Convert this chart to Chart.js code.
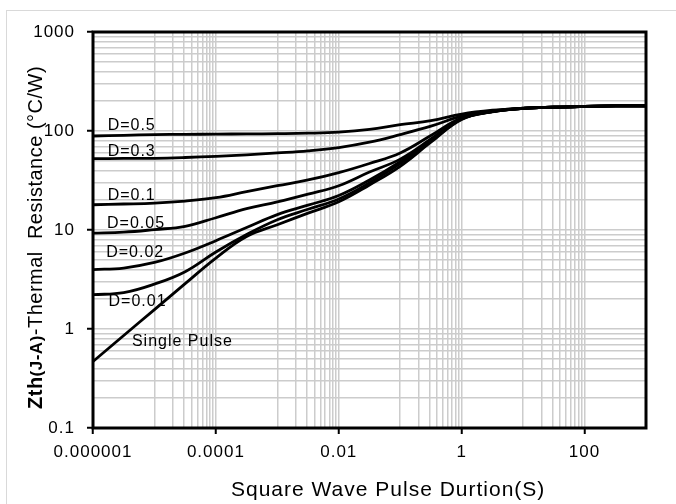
<!DOCTYPE html>
<html>
<head>
<meta charset="utf-8">
<script src="https://cdn.jsdelivr.net/npm/chart.js@4.4.1/dist/chart.umd.min.js"></script>
<style>
  html, body { margin: 0; padding: 0; background: #fff; }
  #wrap { width: 676px; height: 504px; }
</style>
</head>
<body>
<div id="wrap"><canvas id="zth" width="676" height="504"></canvas></div>
<script>
'use strict';

// ── Pulse widths (s), half-decade steps ──
const pulseWidths = [0.000001, 0.00000316, 0.00001, 0.0000316, 0.0001, 0.000316, 0.001, 0.00316,
                     0.01, 0.0316, 0.1, 0.316, 1, 3.16, 10, 31.6, 100, 316, 1000];

// ── Zth(j-a) in °C/W for each duty cycle ──
const zthD05    = [89, 90.5, 92, 92.5, 93, 93.5, 94, 95, 97.5, 104, 116, 127, 148, 162, 170, 174, 177, 179, 180];
const zthD03    = [52.6, 52.8, 53, 54, 55.5, 57.5, 60, 63, 68, 77, 92, 112, 141, 160, 170, 174, 177, 179, 180];
const zthD01    = [18, 18.3, 18.7, 19.6, 21.2, 24.4, 28, 32, 38, 47, 60, 90, 136, 158, 169, 174, 177, 179, 180];
const zthD005   = [9.3, 9.5, 10.1, 10.9, 13.3, 16.4, 19.2, 23, 28, 38.5, 52, 83, 134, 157, 169, 174, 177, 179, 180];
const zthD002   = [3.98, 4.13, 4.7, 5.86, 7.8, 10.6, 14.3, 17.8, 22.3, 32, 49, 81, 133, 157, 169, 174, 177, 179, 180];
const zthD001   = [2.22, 2.33, 2.84, 3.79, 6.0, 9.0, 12.7, 16.2, 20.6, 30, 46.8, 79, 132, 157, 169, 174, 177, 179, 180];
const zthSingle = [0.47, 0.86, 1.57, 2.87, 5.2, 8.6, 11.3, 14.8, 19.3, 28.5, 44, 77, 131, 156, 169, 174, 177, 179, 180];

const seriesNames = ['D=0.5', 'D=0.3', 'D=0.1', 'D=0.05', 'D=0.02', 'D=0.01', 'Single Pulse'];
const seriesData  = [zthD05, zthD03, zthD01, zthD005, zthD002, zthD001, zthSingle];

// curve tags: [pulse width, Zth] at the text's left baseline
const tagAnchors = [[1.73e-6, 102], [1.73e-6, 56.3], [1.73e-6, 20.2], [1.69e-6, 10.5],
                    [1.64e-6, 5.34], [1.79e-6, 1.72], [4.3e-6, 0.667]];

// ── Axis ticks ──
const xMajor       = [0.000001, 0.0001, 0.01, 1, 100];
const xMajorLabels = ['0.000001', '0.0001', '0.01', '1', '100'];
const yMajor       = [0.1, 1, 10, 100, 1000];
const yMajorLabels = ['0.1', '1', '10', '100', '1000'];

// x gridlines every 1..9 step inside each odd decade, y gridlines every 1..9 step per decade
const xGrid = [...xMajor];
[0.00001, 0.001, 0.1, 10].forEach(b => { for (let k = 1; k <= 9; k++) xGrid.push(b * k); });
const yGrid = [...yMajor];
[0.1, 1, 10, 100].forEach(b => { for (let k = 2; k <= 9; k++) yGrid.push(b * k); });
xGrid.sort((a, b) => a - b);
yGrid.sort((a, b) => a - b);

const FONT = '"Liberation Sans", Arial, sans-serif';

const zthFrame = {
    id: 'zthFrame',
    beforeDraw(chart) {
        const c = chart.ctx;
        c.save();
        c.fillStyle = '#fff';
        c.fillRect(0, 0, chart.width, chart.height);
        c.strokeStyle = '#d9d9d9';
        c.lineWidth = 1;
        c.strokeRect(6.5, 10.5, chart.width + 20, chart.height + 20);
        c.restore();
        c.letterSpacing = '1px';   // wide tick numerals
    },
    beforeDatasetsDraw(chart) {
        const { ctx: c, chartArea: a } = chart;
        c.save();
        c.strokeStyle = '#000';
        c.lineWidth = 3;
        c.strokeRect(a.left, a.top, a.right - a.left, a.bottom - a.top);
        c.restore();
    },
    afterDraw(chart) {
        const c = chart.ctx;
        const xs = chart.scales.x, ys = chart.scales.y;
        c.save();
        c.fillStyle = '#000';

        // curve tags
        c.font = '16px ' + FONT;
        c.letterSpacing = '1px';
        c.textAlign = 'left';
        c.textBaseline = 'alphabetic';
        seriesNames.forEach((name, i) => {
            const [t, z] = tagAnchors[i];
            c.fillText(name, xs.getPixelForValue(t), ys.getPixelForValue(z));
        });

        // x title
        c.font = '21px ' + FONT;
        c.letterSpacing = '1px';
        c.fillText('Square Wave Pulse Durtion(S)', 231, 496);

        // y title, mixed weights, reading upward
        c.translate(42, 409);
        c.rotate(-Math.PI / 2);
        c.letterSpacing = '0.5px';
        const parts = [['bold 20px ', 'Zth'], ['bold 17px ', '(J-A)'], ['20px ', '-Thermal  Resistance (°C/W)']];
        let off = 0;
        parts.forEach(([f, s]) => {
            c.font = f + FONT;
            c.fillText(s, off, 0);
            off += c.measureText(s).width;
        });
        c.restore();
    }
};

const lineSets = seriesData.map((vals, i) => ({
    label: seriesNames[i],
    data: pulseWidths.map((t, j) => ({ x: t, y: vals[j] })),
    borderColor: '#000',
    borderWidth: 2.8,
    pointRadius: 0,
    fill: false,
    tension: 0.4
}));

const isMajor = (list, v) => list.some(m => Math.abs(m - v) / m < 1e-9);

new Chart(document.getElementById('zth'), {
    type: 'line',
    data: { datasets: lineSets },
    options: {
        responsive: false,
        animation: false,
        events: [],
        layout: { padding: { top: 32, right: 30, left: 0, bottom: 0 } },
        plugins: { legend: { display: false }, tooltip: { enabled: false } },
        scales: {
            x: {
                type: 'logarithmic', min: 0.000001, max: 1000,
                afterBuildTicks: s => { s.ticks = xGrid.map(v => ({ value: v })); },
                afterFit: s => { s.height = 76; },
                ticks: {
                    autoSkip: false, maxRotation: 0, minRotation: 0, padding: 8, color: '#000',
                    font: { family: FONT, size: 17 },
                    callback: v => { const i = xMajor.findIndex(m => isMajor([m], v)); return i >= 0 ? xMajorLabels[i] : ''; }
                },
                grid: {
                    color: '#cccccc', lineWidth: 1.5, drawTicks: true, tickLength: 6, tickWidth: 2,
                    tickColor: ctx => (ctx.tick && isMajor(xMajor, ctx.tick.value)) ? '#000' : 'rgba(0,0,0,0)'
                },
                border: { display: false }
            },
            y: {
                type: 'logarithmic', min: 0.1, max: 1000,
                afterBuildTicks: s => { s.ticks = yGrid.map(v => ({ value: v })); },
                afterFit: s => { s.width = 93; },
                ticks: {
                    autoSkip: false, padding: 12, color: '#000',
                    font: { family: FONT, size: 17 },
                    callback: v => { const i = yMajor.findIndex(m => isMajor([m], v)); return i >= 0 ? yMajorLabels[i] : ''; }
                },
                grid: {
                    color: '#cccccc', lineWidth: 1.5, drawTicks: true, tickLength: 6, tickWidth: 2,
                    tickColor: ctx => (ctx.tick && isMajor(yMajor, ctx.tick.value)) ? '#000' : 'rgba(0,0,0,0)'
                },
                border: { display: false }
            }
        }
    },
    plugins: [zthFrame]
});
</script>
</body>
</html>
